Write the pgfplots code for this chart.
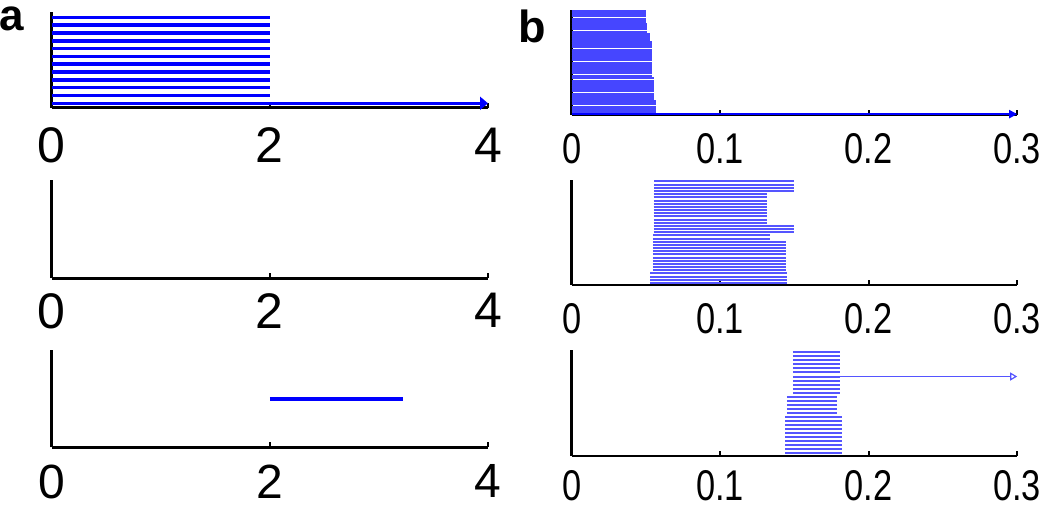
\documentclass[border=0pt]{standalone}
\usepackage{pgfplots}
\pgfplotsset{compat=1.18}
\usepackage{fontspec}
\setmainfont{Liberation Sans}
\newfontfamily\condfont{Liberation Sans}[FakeStretch=0.8]
\usetikzlibrary{arrows.meta}
\definecolor{bl}{RGB}{0,0,255}
\definecolor{lb}{RGB}{85,85,255}
\definecolor{lbd}{RGB}{70,70,255}
\pgfplotsset{
  panel/.style={scale only axis, clip=false, anchor=south west,
    axis x line*=bottom, axis y line*=left,
    axis line style={line width=2.5pt, black},
    ytick=\empty, tick align=inside, major tick length=5pt,
    tick style={line width=2pt, black},
    xticklabel style={inner sep=0pt, anchor=north},
  },
  pa/.style={panel, xmin=0, xmax=4, xtick={0,2,4}, xticklabels={0,2,4},
    width=436.3pt, xticklabel style={font=\fontsize{50}{50}\selectfont}},
  pb/.style={panel, xmin=0, xmax=0.3, xtick={0,0.1,0.2,0.3}, xticklabels={0,0.1,0.2,0.3},
    width=445.5pt, xticklabel style={font=\condfont\fontsize{43}{43}\selectfont}},
}
\begin{document}
\begin{tikzpicture}
\path[use as bounding box] (0pt,0pt) rectangle (1050pt,-504pt);

% ---------- panel a, top ----------
\begin{axis}[pa, at={(51.7pt,-107.5pt)}, height=95.8pt, ymin=-0.54, ymax=11.72,
  xticklabel style={yshift=-20pt}]
\addplot[bl, line width=3.5pt, quiver={u=\thisrow{u},v=0}] table[x=x,y=y]{
x y u
0 1 2
0 2 2
0 3 2
0 4 2
0 5 2
0 6 2
0 7 2
0 8 2
0 9 2
0 10 2
0 11 2
};
\addplot[bl, line width=3.5pt, -{Triangle[length=8pt,width=13pt]}] coordinates {(0,0) (4,0)};
\end{axis}

% ---------- panel a, middle ----------
\begin{axis}[pa, at={(51.7pt,-278.3pt)}, height=98.3pt, ymin=0, ymax=1,
  xticklabel style={yshift=-15pt}]
\end{axis}

% ---------- panel a, bottom ----------
\begin{axis}[pa, at={(51.7pt,-447.3pt)}, height=97.3pt, ymin=0, ymax=1,
  xticklabel style={yshift=-17pt, font=\fontsize{48}{48}\selectfont}]
\addplot[bl, line width=3.8pt] coordinates {(2,0.5) (3.22,0.5)};
\end{axis}

% ---------- panel b, top ----------
\begin{axis}[pb, at={(571.7pt,-114.5pt)}, height=104.5pt, ymin=0, ymax=40.4,
  xticklabel style={yshift=-18.5pt}]
\addplot[lbd, line width=2.4pt, quiver={u=\thisrow{u},v=0}] table[x=x,y=y]{
x y u
0 40 0.0500
0 39 0.0500
0 38 0.0500
0 37 0.0500
0 36 0.0500
0 35 0.0510
0 34 0.0510
0 33 0.0510
0 32 0.0510
0 31 0.0525
0 30 0.0525
0 29 0.0525
0 28 0.0540
0 27 0.0540
0 26 0.0540
0 25 0.0540
0 24 0.0540
0 23 0.0540
0 22 0.0540
0 21 0.0540
0 20 0.0540
0 19 0.0540
0 18 0.0540
0 17 0.0540
0 16 0.0540
0 15 0.0540
0 14 0.0557
0 13 0.0557
0 12 0.0557
0 11 0.0557
0 10 0.0557
0 9 0.0557
0 8 0.0557
0 7 0.0557
0 6 0.0557
0 5 0.0570
0 4 0.0570
0 3 0.0570
0 2 0.0570
0 1 0.0570
};
\addplot[bl, line width=2pt, -{Triangle[length=8pt,width=8pt]}] coordinates {(0,0.15) (0.3,0.15)};
\end{axis}

% ---------- panel b, middle ----------
\begin{axis}[pb, at={(571.7pt,-285pt)}, height=105pt, ymin=0.35, ymax=33.47,
  xticklabel style={yshift=-18.3pt}]
\addplot[lb, line width=2pt, quiver={u=\thisrow{u},v=0}] table[x=x,y=y]{
x y u
0.0557 33 0.0937
0.0557 32 0.0937
0.0557 31 0.0937
0.0557 30 0.0937
0.0552 29 0.0763
0.0552 28 0.0763
0.0552 27 0.0763
0.0552 26 0.0763
0.0552 25 0.0763
0.0552 24 0.0763
0.0552 23 0.0763
0.0552 22 0.0763
0.0552 21 0.0763
0.0552 20 0.0763
0.0552 19 0.0942
0.0552 18 0.0942
0.0552 17 0.0942
0.0546 16 0.0787
0.0546 15 0.0787
0.0546 14 0.0899
0.0546 13 0.0899
0.0546 12 0.0899
0.0546 11 0.0899
0.0546 10 0.0899
0.0546 9 0.0899
0.0546 8 0.0899
0.0546 7 0.0899
0.0546 6 0.0899
0.0546 5 0.0899
0.0530 4 0.0920
0.0530 3 0.0920
0.0530 2 0.0920
0.0530 1 0.0920
};
\end{axis}

% ---------- panel b, bottom ----------
\begin{axis}[pb, at={(571.7pt,-456pt)}, height=106pt, ymin=0.32, ymax=26.57,
  xticklabel style={yshift=-14.5pt}]
\addplot[lb, line width=2pt, quiver={u=\thisrow{u},v=0}] table[x=x,y=y]{
x y u
0.1490 26 0.0319
0.1490 25 0.0319
0.1490 24 0.0319
0.1490 23 0.0319
0.1490 22 0.0319
0.1490 21 0.0319
0.1490 20 0.0319
0.1490 19 0.0319
0.1490 18 0.0319
0.1490 17 0.0319
0.1490 16 0.0319
0.1449 15 0.0338
0.1449 14 0.0338
0.1449 13 0.0338
0.1449 12 0.0338
0.1449 11 0.0338
0.1438 10 0.0382
0.1438 9 0.0382
0.1438 8 0.0382
0.1438 7 0.0382
0.1438 6 0.0382
0.1438 5 0.0382
0.1438 4 0.0382
0.1438 3 0.0382
0.1438 2 0.0382
0.1438 1 0.0382
};
\addplot[lb, line width=1.2pt, -{Triangle[open,length=7pt,width=8pt]}] coordinates {(0.181,20) (0.3,20)};
\end{axis}

\node[anchor=base west, inner sep=0pt, font=\bfseries\fontsize{44}{44}\selectfont] at (-1pt,-30pt) {a};
\node[anchor=base west, inner sep=0pt, font=\bfseries\fontsize{45}{45}\selectfont] at (518.5pt,-42pt) {b};
\end{tikzpicture}
\end{document}
